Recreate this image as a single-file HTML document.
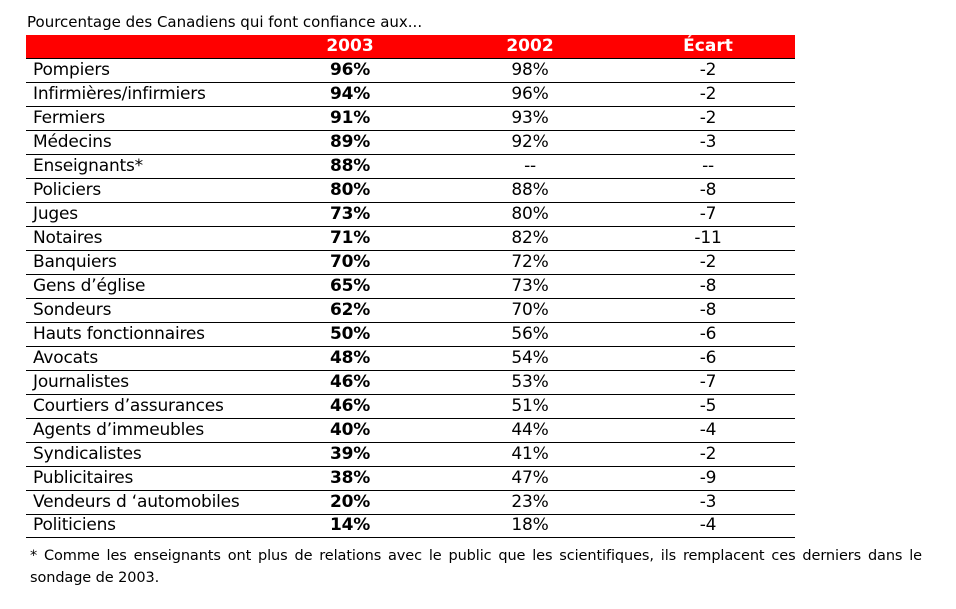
<!DOCTYPE html>
<html><head><meta charset="utf-8"><style>
body{margin:0;background:#fff;width:956px;height:609px;overflow:hidden;font-family:"DejaVu Sans","Liberation Sans",sans-serif;color:#000;position:relative}
.t{position:absolute;left:27px;top:13px;font-size:15px;letter-spacing:0px}
.hdr{position:absolute;left:26px;top:35px;width:769px;height:23px;background:#f00;border-bottom:1px solid #000}
.r{position:absolute;left:26px;width:769px;height:23px;border-bottom:1px solid #000;font-size:17px;letter-spacing:-0.2px}
.r span,.hdr span{position:absolute;top:1px;white-space:nowrap;line-height:17px;padding-top:2px}
.l{left:7px}
.a{left:274px;width:100px;text-align:center;font-weight:bold}
.b{left:454px;width:100px;text-align:center}
.c{left:632px;width:100px;text-align:center}
.hdr span{color:#fff;font-weight:bold;font-size:17px}
.f{position:absolute;left:30px;top:545px;width:892px;font-size:14.5px;line-height:22px;text-align:justify;text-align-last:left;letter-spacing:-0.1px}
</style></head><body>
<div class="t">Pourcentage des Canadiens qui font confiance aux...</div>
<div class="hdr"><span class="a">2003</span><span class="b" style="font-weight:bold">2002</span><span class="c" style="font-weight:bold">Écart</span></div>
<div class="r" style="top:59px"><span class="l">Pompiers</span><span class="a">96%</span><span class="b">98%</span><span class="c">-2</span></div>
<div class="r" style="top:83px"><span class="l">Infirmières/infirmiers</span><span class="a">94%</span><span class="b">96%</span><span class="c">-2</span></div>
<div class="r" style="top:107px"><span class="l">Fermiers</span><span class="a">91%</span><span class="b">93%</span><span class="c">-2</span></div>
<div class="r" style="top:131px"><span class="l">Médecins</span><span class="a">89%</span><span class="b">92%</span><span class="c">-3</span></div>
<div class="r" style="top:155px"><span class="l">Enseignants*</span><span class="a">88%</span><span class="b">--</span><span class="c">--</span></div>
<div class="r" style="top:179px"><span class="l">Policiers</span><span class="a">80%</span><span class="b">88%</span><span class="c">-8</span></div>
<div class="r" style="top:203px"><span class="l">Juges</span><span class="a">73%</span><span class="b">80%</span><span class="c">-7</span></div>
<div class="r" style="top:227px"><span class="l">Notaires</span><span class="a">71%</span><span class="b">82%</span><span class="c">-11</span></div>
<div class="r" style="top:251px"><span class="l">Banquiers</span><span class="a">70%</span><span class="b">72%</span><span class="c">-2</span></div>
<div class="r" style="top:275px"><span class="l">Gens d’église</span><span class="a">65%</span><span class="b">73%</span><span class="c">-8</span></div>
<div class="r" style="top:299px"><span class="l">Sondeurs</span><span class="a">62%</span><span class="b">70%</span><span class="c">-8</span></div>
<div class="r" style="top:323px"><span class="l">Hauts fonctionnaires</span><span class="a">50%</span><span class="b">56%</span><span class="c">-6</span></div>
<div class="r" style="top:347px"><span class="l">Avocats</span><span class="a">48%</span><span class="b">54%</span><span class="c">-6</span></div>
<div class="r" style="top:371px"><span class="l">Journalistes</span><span class="a">46%</span><span class="b">53%</span><span class="c">-7</span></div>
<div class="r" style="top:395px"><span class="l">Courtiers d’assurances</span><span class="a">46%</span><span class="b">51%</span><span class="c">-5</span></div>
<div class="r" style="top:419px"><span class="l">Agents d’immeubles</span><span class="a">40%</span><span class="b">44%</span><span class="c">-4</span></div>
<div class="r" style="top:443px"><span class="l">Syndicalistes</span><span class="a">39%</span><span class="b">41%</span><span class="c">-2</span></div>
<div class="r" style="top:467px"><span class="l">Publicitaires</span><span class="a">38%</span><span class="b">47%</span><span class="c">-9</span></div>
<div class="r" style="top:491px"><span class="l">Vendeurs d ‘automobiles</span><span class="a">20%</span><span class="b">23%</span><span class="c">-3</span></div>
<div class="r" style="top:514px"><span class="l">Politiciens</span><span class="a">14%</span><span class="b">18%</span><span class="c">-4</span></div>
<div class="f">* Comme les enseignants ont plus de relations avec le public que les scientifiques, ils remplacent ces derniers dans le sondage de 2003.</div>
</body></html>
